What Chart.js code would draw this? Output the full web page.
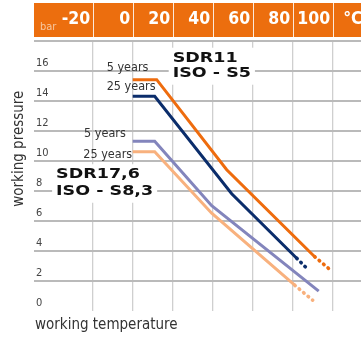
<!DOCTYPE html>
<html>
<head>
<meta charset="utf-8">
<script src="https://cdn.jsdelivr.net/npm/chart.js@4.4.1/dist/chart.umd.min.js"></script>
<style>
  html, body { margin: 0; padding: 0; background: #fff; }
  #wrap { width: 361px; height: 337px; position: relative; }
</style>
</head>
<body>
<div id="wrap"><canvas id="chart"></canvas></div>
<script>
// Axis tick values: temperature in °C, pressure in bar
const temperatureTicks = [-20, 0, 20, 40, 60, 80, 100];
const pressureTicks = [0, 2, 4, 6, 8, 10, 12, 14, 16, 18];

// SDR11 / ISO-S5, 5 years service life
const sdr11Years5Temp = [0, 12, 47, 91];
const sdr11Years5Bar = [15.4, 15.4, 9.4, 3.6];
const sdr11Years5ExtTemp = [91, 99];
const sdr11Years5ExtBar = [3.6, 2.7];

// SDR11 / ISO-S5, 25 years service life
const sdr11Years25Temp = [0, 11, 49.5, 82];
const sdr11Years25Bar = [14.3, 14.3, 7.8, 3.5];
const sdr11Years25ExtTemp = [82, 88];
const sdr11Years25ExtBar = [3.5, 2.7];

// SDR17,6 / ISO-S8,3, 5 years service life
const sdr17Years5Temp = [0, 11, 39.5, 93];
const sdr17Years5Bar = [11.3, 11.3, 7.0, 1.3];

// SDR17,6 / ISO-S8,3, 25 years service life
const sdr17Years25Temp = [0, 11, 39.5, 81];
const sdr17Years25Bar = [10.6, 10.6, 6.5, 1.7];
const sdr17Years25ExtTemp = [81, 90];
const sdr17Years25ExtBar = [1.7, 0.7];

// Colours and fonts
const HEADER_ORANGE = '#EC6E0E';
const C_SDR11_5 = '#EE6C0E';
const C_SDR11_25 = '#0B2D6B';
const C_SDR17_5 = '#8385BC';
const C_SDR17_25 = '#F8B17E';
const NARROW = '"Liberation Sans Narrow", "DejaVu Sans Condensed", "Open Sans", sans-serif';
const WIDE_BOLD = '"DejaVu Sans", sans-serif';

const toPoints = (xs, ys) => xs.map((t, i) => ({ x: t, y: ys[i] }));

function solid(label, xs, ys, color) {
  return {
    label, data: toPoints(xs, ys), borderColor: color, borderWidth: 3,
    pointRadius: 0, tension: 0, fill: false, borderJoinStyle: 'miter', borderCapStyle: 'butt'
  };
}
function dotted(label, xs, ys, color) {
  return {
    label, data: toPoints(xs, ys), borderColor: color, borderWidth: 3.6,
    pointRadius: 0, tension: 0, fill: false, borderCapStyle: 'round', borderDash: [0.6, 5.2]
  };
}

// Service-life labels next to the curve starts (data coordinates of text start / baseline)
const lifeLabels = [
  { text: '5 years',  t: -13,   p: 16.0 },
  { text: '25 years', t: -13,   p: 14.7 },
  { text: '5 years',  t: -24.3, p: 11.55 },
  { text: '25 years', t: -24.7, p: 10.2 }
];
// Pipe class blocks (data coordinates of the first line's start / baseline)
const classBlocks = [
  { lines: ['SDR11', 'ISO - S5'], t: 20.0, p: 16.6, gap: 15 },
  { lines: ['SDR17,6', 'ISO - S8,3'], t: -38.3, p: 8.83, gap: 16.5 }
];

const decor = {
  id: 'decor',
  beforeDraw(chart) {
    const { ctx, chartArea: ca } = chart;
    const x = chart.scales.x;
    ctx.save();
    ctx.fillStyle = '#fff';
    ctx.fillRect(0, 0, chart.width, chart.height);

    // Orange header band with the temperature scale
    ctx.fillStyle = HEADER_ORANGE;
    ctx.fillRect(ca.left, 3, ca.right - ca.left, 34);
    ctx.strokeStyle = 'rgba(255,255,255,0.85)';
    ctx.lineWidth = 1;
    temperatureTicks.forEach(v => {
      const px = Math.round(x.getPixelForValue(v)) + 0.5;
      ctx.beginPath(); ctx.moveTo(px, 3); ctx.lineTo(px, 37); ctx.stroke();
    });
    ctx.fillStyle = '#fff';
    ctx.font = 'bold 17.5px ' + NARROW;
    ctx.textBaseline = 'alphabetic';
    ctx.textAlign = 'right';
    temperatureTicks.forEach(v => ctx.fillText(String(v), x.getPixelForValue(v) - 2.5, 23.5));
    ctx.textAlign = 'left';
    ctx.fillText('°C', x.getPixelForValue(100) + 10.5, 23.5);
    ctx.font = '11px ' + NARROW;
    ctx.fillStyle = '#F7C79E';
    ctx.fillText('bar', ca.left + 6, 29.5);

    // Axis titles
    ctx.fillStyle = '#333';
    ctx.font = '15px ' + NARROW;
    ctx.textAlign = 'left';
    ctx.fillText('working temperature', ca.left + 1, 328.5);
    ctx.save();
    ctx.translate(23, (ca.top + ca.bottom) / 2 - 27);
    ctx.rotate(-Math.PI / 2);
    ctx.textAlign = 'center';
    ctx.fillText('working pressure', 0, 0);
    ctx.restore();
    ctx.restore();
  },
  beforeDatasetsDraw(chart) {
    const { ctx } = chart;
    const { x, y } = chart.scales;
    ctx.save();
    // Pipe class blocks on white boxes over the grid
    ctx.font = 'bold 14px ' + WIDE_BOLD;
    ctx.textBaseline = 'alphabetic';
    ctx.textAlign = 'left';
    const sx = 1.25;
    classBlocks.forEach(b => {
      const left = x.getPixelForValue(b.t);
      const base = y.getPixelForValue(b.p);
      const w = Math.max(...b.lines.map(s => ctx.measureText(s).width)) * sx;
      const lastBase = base + b.gap * (b.lines.length - 1);
      ctx.fillStyle = '#fff';
      ctx.fillRect(left - 4, base - 14, w + 8, lastBase - base + 22);
      ctx.fillStyle = '#111';
      b.lines.forEach((s, i) => {
        ctx.save();
        ctx.translate(left, base + b.gap * i);
        ctx.scale(sx, 1);
        ctx.fillText(s, 0, 0);
        ctx.restore();
      });
    });
    // Service-life labels
    ctx.font = '12.5px ' + NARROW;
    ctx.fillStyle = '#333';
    lifeLabels.forEach(l => ctx.fillText(l.text, x.getPixelForValue(l.t), y.getPixelForValue(l.p)));
    ctx.restore();
  }
};

new Chart(document.getElementById('chart'), {
  type: 'line',
  data: {
    datasets: [
      solid('SDR17,6 25 years', sdr17Years25Temp, sdr17Years25Bar, C_SDR17_25),
      dotted('SDR17,6 25 years ext', sdr17Years25ExtTemp, sdr17Years25ExtBar, C_SDR17_25),
      solid('SDR17,6 5 years', sdr17Years5Temp, sdr17Years5Bar, C_SDR17_5),
      solid('SDR11 25 years', sdr11Years25Temp, sdr11Years25Bar, C_SDR11_25),
      dotted('SDR11 25 years ext', sdr11Years25ExtTemp, sdr11Years25ExtBar, C_SDR11_25),
      solid('SDR11 5 years', sdr11Years5Temp, sdr11Years5Bar, C_SDR11_5),
      dotted('SDR11 5 years ext', sdr11Years5ExtTemp, sdr11Years5ExtBar, C_SDR11_5)
    ]
  },
  options: {
    responsive: true,
    maintainAspectRatio: false,
    animation: false,
    events: [],
    layout: { padding: { top: 40.7, left: 34, right: 0, bottom: 26.3 } },
    plugins: { legend: { display: false }, tooltip: { enabled: false } },
    scales: {
      x: {
        type: 'linear',
        position: 'bottom',
        min: -49.35,
        max: 114.15,
        afterBuildTicks: s => { s.ticks = temperatureTicks.map(v => ({ value: v })); },
        afterFit: s => { s.height = 0; },
        ticks: { display: false },
        border: { display: false },
        grid: { color: '#cfcfcf', lineWidth: 1.3, drawTicks: false }
      },
      y: {
        type: 'linear',
        position: 'left',
        min: 0,
        max: 18,
        afterBuildTicks: s => { s.ticks = pressureTicks.map(v => ({ value: v })); },
        afterFit: s => { s.width = 0; },
        border: { display: false },
        grid: {
          color: c => (c.tick && c.tick.value === 0 ? 'rgba(0,0,0,0)' : '#bababa'),
          lineWidth: 2,
          drawTicks: false
        },
        ticks: {
          mirror: true,
          padding: 2,
          labelOffset: -8,
          color: '#444',
          font: { family: NARROW, size: 11 },
          callback: v => (v === 18 ? '' : String(v))
        }
      }
    }
  },
  plugins: [decor]
});
</script>
</body>
</html>
